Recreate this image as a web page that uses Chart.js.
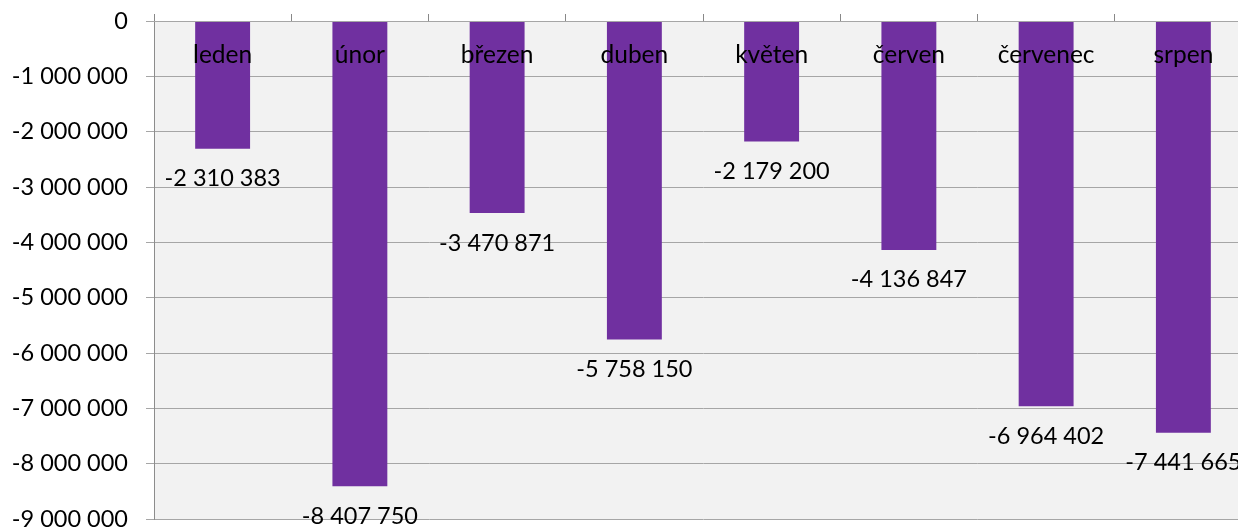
<!DOCTYPE html>
<html>
<head>
<meta charset="utf-8">
<script src="https://cdn.jsdelivr.net/npm/chart.js@4/dist/chart.umd.min.js"></script>
<style>
  html, body { margin: 0; padding: 0; background: #ffffff; overflow: hidden; }
  #wrap { position: relative; width: 1252px; height: 530px; }
</style>
</head>
<body>
<div id="wrap"><canvas id="c"></canvas></div>
<script>
const categories = ["leden", "únor", "březen", "duben", "květen", "červen", "červenec", "srpen"];
const values = [-2310383, -8407750, -3470871, -5758150, -2179200, -4136847, -6964402, -7441665];
const yMin = -9000000;
const yMax = 0;
const yStep = 1000000;

const FONT = "Lato, 'Open Sans', 'Liberation Sans', sans-serif";

function fmt(v) {
  const s = Math.abs(Math.round(v)).toString().replace(/\B(?=(\d{3})+(?!\d))/g, " ");
  return (v < 0 ? "-" : "") + s;
}

const plotBg = {
  id: "plotBg",
  beforeDraw(chart) {
    const { ctx, chartArea: a } = chart;
    ctx.save();
    ctx.fillStyle = "#f2f2f2";
    ctx.fillRect(a.left, a.top, a.right - a.left, a.bottom - a.top);
    ctx.restore();
  }
};

const valueLabels = {
  id: "valueLabels",
  afterDatasetsDraw(chart) {
    const { ctx } = chart;
    const meta = chart.getDatasetMeta(0);
    ctx.save();
    ctx.font = "23.5px " + FONT;
    ctx.fillStyle = "#000000";
    ctx.textAlign = "center";
    ctx.textBaseline = "middle";
    meta.data.forEach((bar, i) => {
      ctx.fillText(fmt(chart.data.datasets[0].data[i]), bar.x, bar.y + 30);
    });
    ctx.restore();
  }
};

new Chart(document.getElementById("c"), {
  type: "bar",
  data: {
    labels: categories,
    datasets: [{
      data: values,
      backgroundColor: "#7030a0",
      borderWidth: 0,
      barPercentage: 0.8,
      categoryPercentage: 0.5
    }]
  },
  options: {
    responsive: true,
    maintainAspectRatio: false,
    animation: false,
    layout: { padding: { top: 21, bottom: 11, left: 0, right: 0 } },
    plugins: { legend: { display: false }, tooltip: { enabled: false } },
    scales: {
      x: {
        position: { y: 0 },
        offset: true,
        grid: { offset: true, drawOnChartArea: false, drawTicks: true, tickLength: -8, color: "#888888", lineWidth: 1, z: 1 },
        border: { display: true, color: "#a6a6a6", width: 1, z: 1 },
        ticks: { z: 2, color: "#000000", font: { family: FONT, size: 24.5 }, padding: 27, maxRotation: 0, autoSkip: false },
        afterFit(s) { s.paddingLeft = 0; s.paddingRight = 0; }
      },
      y: {
        min: yMin,
        max: yMax,
        grid: { color: "#a6a6a6", lineWidth: 1, tickLength: 8 },
        border: { display: true, color: "#8c8c8c", width: 1 },
        ticks: {
          stepSize: yStep,
          color: "#000000",
          font: { family: FONT, size: 23.5 },
          padding: 18,
          callback: (v) => fmt(v)
        },
        afterFit(s) { s.width = 154; s.paddingTop = 0; s.paddingBottom = 0; }
      }
    }
  },
  plugins: [plotBg, valueLabels]
});
</script>
</body>
</html>
